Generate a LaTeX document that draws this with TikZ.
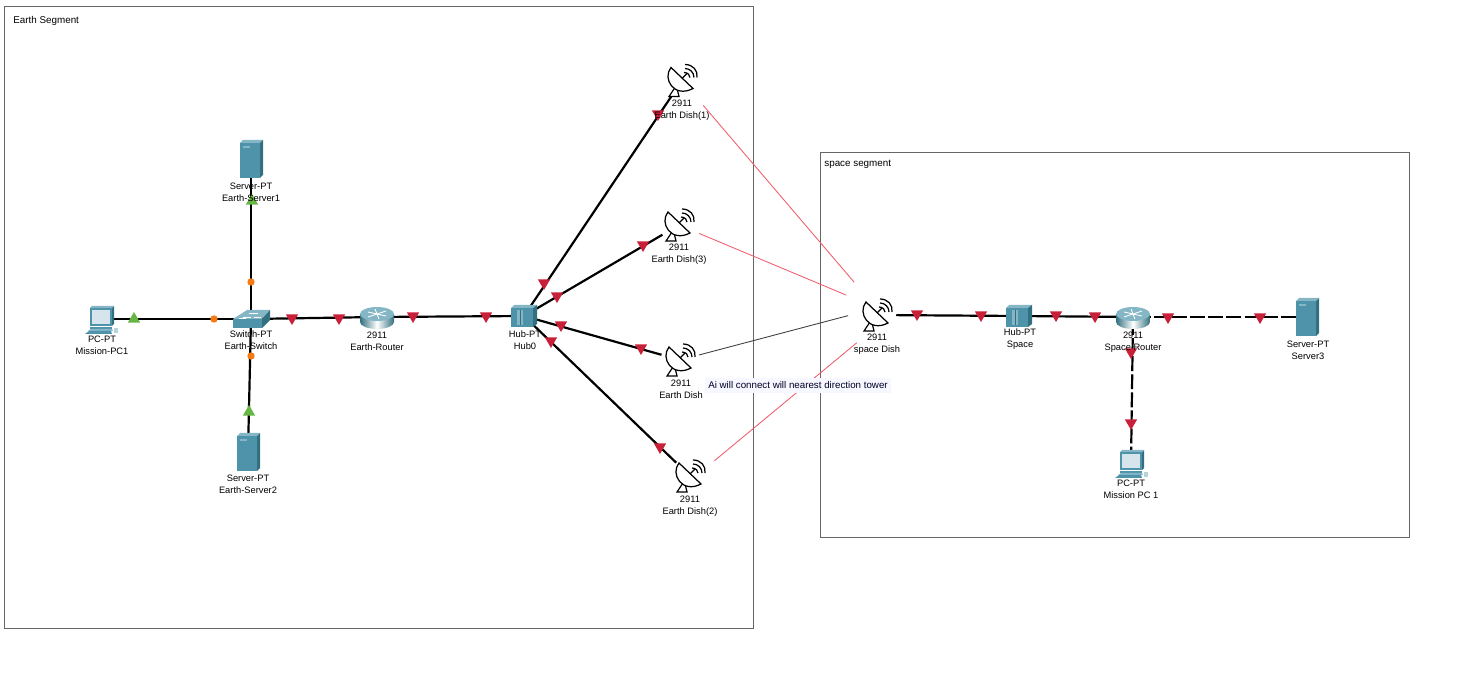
\documentclass[tikz,border=0pt]{standalone}
\usepackage{fontspec}
\setmainfont{Liberation Sans}
\usetikzlibrary{shapes.geometric}
\usetikzlibrary{calc}
\definecolor{ptteal}{HTML}{4F93AB}
\definecolor{ptdark}{HTML}{33707F}
\definecolor{ptlight}{HTML}{84B6C6}
\definecolor{ptscreen}{HTML}{D6E5EC}
\definecolor{lightred}{HTML}{C9203A}
\definecolor{lightgreen}{HTML}{66B545}
\definecolor{lightorange}{HTML}{F47A14}
\definecolor{radiored}{HTML}{F0606E}
\newcommand{\servericon}[1]% node
{\begin{scope}[shift={(#1)}]
	\fill[ptteal] (-11,-16) rectangle (9,19);
	\fill[ptlight] (-11,-16) -- (-8,-19) -- (12,-19) -- (9,-16) -- cycle;
	\fill[ptdark] (9,-16) -- (12,-19) -- (12,16) -- (9,19) -- cycle;
	\fill[ptlight] (-8,-13) rectangle (-1,-11);
\end{scope}}
\newcommand{\pcicon}[1]% node
{\begin{scope}[shift={(#1)}]
	\fill[ptteal] (-11,-11) rectangle (11,7);
	\fill[ptdark] (11,-11) -- (13,-13) -- (13,5) -- (11,7) -- cycle;
	\fill[ptlight] (-11,-11) -- (-9,-13) -- (13,-13) -- (11,-11) -- cycle;
	\fill[ptscreen] (-9,-9) rectangle (9,5);
	\fill[ptteal] (-11,8) rectangle (11,10);
	\fill[ptlight] (-13,12) -- (-10,10) -- (11,10) -- (12,12) -- cycle;
	\fill[ptteal] (-16,15) -- (-12,12) -- (10,12) -- (11,15) -- cycle;
	\fill[ptlight!60!white] (13,9) rectangle (17,14);
\end{scope}}
\newcommand{\switchicon}[1]% node
{\begin{scope}[shift={(#1)}]
	\fill[ptteal] (-18,0) rectangle (11,9);
	\fill[ptlight] (-18,0) -- (-4,-9) -- (19,-9) -- (11,0) -- cycle;
	\fill[ptdark] (11,0) -- (19,-9) -- (19,1) -- (11,9) -- cycle;
	\draw[white,line width=.3pt] (-8,-2) -- (0,-2) (-2,-6) -- (7,-6) (3,-2) -- (10,-2) (-12,-1) -- (-5,-1);
\end{scope}}
\newcommand{\routericon}[1]% node
{\begin{scope}[shift={(#1)}]
	\shade[left color=ptdark,right color=ptdark,middle color=white] (-17,-3) -- (-17,5) arc[start angle=180,end angle=360,x radius=17,y radius=-7] -- (17,-3) -- cycle;
	\fill[ptlight] (0,-3) ellipse (17 and 7);
	\draw[white,line width=.5pt] (-9,-5) -- (9,-1) (9,-6) -- (-9,0) (-2,-8) -- (2,2);
\end{scope}}
\newcommand{\hubicon}[1]% node
{\begin{scope}[shift={(#1)}]
	\fill[ptteal] (-13,-8) rectangle (9,11);
	\fill[ptlight] (-13,-8) -- (-10,-11) -- (13,-11) -- (9,-8) -- cycle;
	\fill[ptdark] (9,-8) -- (13,-11) -- (13,8) -- (9,11) -- cycle;
	\fill[ptlight] (-7,-6) rectangle (-1,9);
	\draw[ptdark,line width=.3pt] (-4,-6) -- (-4,9);
\end{scope}}
\newcommand{\dishicon}[1]% node
{\begin{scope}[shift={(#1)}]
	\draw[thinblack,fill=white] (-7,7) -- (-13,16) -- (-3,16) -- (-5,8);
	\draw[thinblack,fill=white] (-11,-13) .. controls (-20,-2) and (-8,18) .. (11,8) -- cycle;
	\draw[thinblack] (0,-2) -- (5,-7);
	\draw[thinblack] (2,-8) .. controls (6,-8) and (8,-5) .. (8,-3);
	\draw[thinblack] (3,-12) .. controls (8,-12) and (12,-8) .. (12,-3);
	\draw[thinblack] (3,-16) .. controls (11,-16) and (16,-10) .. (15,-3);
\end{scope}}
\tikzset{
	thinblack/.style={black,line width=.7pt},
	pos node/.style={circle,inner sep=0pt,minimum size=3pt},
	dish node/.style={circle,inner sep=0pt,minimum size=21.5pt},
	wired/.style={black,line width=1.25pt},
	cutwire/.style={wired,dash pattern=on 8.5pt off 1.8pt},
	radio/.style={radiored,line width=.5pt},
	greyradio/.style={black!75,line width=.5pt},
	segment/.style={draw=black!60,line width=.4pt},
	devlabel/.style={font=\fontsize{5.3pt}{6.8pt}\selectfont,align=center,inner sep=0pt},
	seglabel/.style={font=\fontsize{5.6pt}{6.8pt}\selectfont,anchor=west,inner sep=0pt},
	notelabel/.style={font=\fontsize{5.55pt}{6.8pt}\selectfont,fill=blue!3,inner xsep=1.7pt,inner ysep=2pt,text=black!85!blue},
	redlamp/.style={regular polygon,regular polygon sides=3,shape border rotate=180,fill=lightred,inner sep=0pt,minimum size=8pt},
	greenlamp/.style={regular polygon,regular polygon sides=3,fill=lightgreen,inner sep=0pt,minimum size=8pt},
	orangelamp/.style={circle,fill=lightorange,inner sep=0pt,minimum size=4.2pt},
}

\begin{document}
\begin{tikzpicture}[x=0.02cm,y=-0.02cm]
	\useasboundingbox (0,0) rectangle (1477,685);
	\draw[segment] (4.5,6.5) rectangle (753.5,628.5);
	\draw[segment] (820.5,152.5) rectangle (1409.5,537.5);
	% device positions
	\node[pos node] (serverone) at (251,159){};
	\node[pos node] (earthswitch) at (251,319){};
	\node[pos node] (missionpc) at (101,319){};
	\node[pos node] (servertwo) at (248,452){};
	\node[pos node] (earthrouter) at (377,317){};
	\node[pos node] (hubzero) at (524,316){};
	\node[dish node] (dishone) at (682,80.5){};
	\node[dish node] (dishthree) at (679,225){};
	\node[dish node] (dishzero) at (680,360){};
	\node[dish node] (dishtwo) at (690,476){};
	\node[dish node] (spacedish) at (877,315){};
	\node[pos node] (spacehub) at (1019,316){};
	\node[pos node] (spacerouter) at (1133,317){};
	\node[pos node] (serverthree) at (1307,317){};
	\node[pos node] (missionpctwo) at (1131,463){};
	% wires
	\draw[wired] (missionpc) -- (earthswitch);
	\draw[wired] (serverone) -- (earthswitch);
	\draw[wired] (servertwo) -- (earthswitch);
	\draw[wired] (earthswitch) -- (earthrouter);
	\draw[wired] (earthrouter) -- (hubzero);
	\draw[wired] (hubzero) -- (dishone);
	\draw[wired] (hubzero) -- (dishthree);
	\draw[wired] (hubzero) -- (dishzero);
	\draw[wired] (hubzero) -- (dishtwo);
	\draw[wired] (spacedish) -- (spacehub);
	\draw[wired] (spacehub) -- (spacerouter);
	\draw[cutwire] (spacerouter) -- (serverthree);
	\draw[cutwire] (spacerouter) -- (missionpctwo);
	% radio links
	\draw[radio,shorten <=7.7pt,shorten >=20pt] (dishone) -- ($(spacedish)+(0,-6)$);
	\draw[radio,shorten <=1.4pt,shorten >=19pt] (dishthree) -- ($(spacedish)+(0,-7)$);
	\draw[greyradio,shorten <=.3pt,shorten >=17pt] (dishzero) -- ($(spacedish)+(0,-7)$);
	\draw[radio,shorten <=18pt,shorten >=15pt] ($(dishtwo)+(0,5)$) -- ($(spacedish)+(0,11)$);
	% icons
	\servericon{serverone}
	\servericon{servertwo}
	\servericon{serverthree}
	\pcicon{missionpc}
	\pcicon{missionpctwo}
	\switchicon{earthswitch}
	\routericon{earthrouter}
	\routericon{spacerouter}
	\hubicon{hubzero}
	\hubicon{spacehub}
	\dishicon{dishone}
	\dishicon{dishthree}
	\dishicon{dishzero}
	\dishicon{dishtwo}
	\dishicon{spacedish}
	% link lights
	\node[greenlamp] (lampa) at (134,319){};
	\node[greenlamp] (lampb) at (252,201){};
	\node[greenlamp] (lampc) at (249,412){};
	\node[orangelamp] (lampd) at (214,319){};
	\node[orangelamp] (lampe) at (251,282){};
	\node[orangelamp] (lampf) at (251,356){};
	\node[redlamp] (lampg) at (292,318){};
	\node[redlamp] (lamph) at (339,318){};
	\node[redlamp] (lampi) at (413,316){};
	\node[redlamp] (lampj) at (486,316){};
	\node[redlamp] (lampk) at (544,283){};
	\node[redlamp] (lampl) at (557,296){};
	\node[redlamp] (lampm) at (561,325){};
	\node[redlamp] (lampn) at (551,341){};
	\node[redlamp] (lampo) at (658,114){};
	\node[redlamp] (lampp) at (643,245){};
	\node[redlamp] (lampq) at (641,348){};
	\node[redlamp] (lampr) at (660,447){};
	\node[redlamp] (lamps) at (917,314){};
	\node[redlamp] (lampt) at (981,315){};
	\node[redlamp] (lampu) at (1056,315){};
	\node[redlamp] (lampv) at (1095,316){};
	\node[redlamp] (lampw) at (1168,317){};
	\node[redlamp] (lampx) at (1260,317){};
	\node[redlamp] (lampy) at (1131,352){};
	\node[redlamp] (lampz) at (1131,423){};
	% labels
	\node[seglabel] (earthseg) at (13,21){Earth Segment};
	\node[seglabel] (spaceseg) at (824,164){space segment};
	\node[devlabel] (lblserverone) at (251,192){Server-PT\\Earth-Server1};
	\node[devlabel] (lblswitch) at (251,340){Switch-PT\\Earth-Switch};
	\node[devlabel] (lblpc) at (102,345){PC-PT\\Mission-PC1};
	\node[devlabel] (lblservertwo) at (248,484){Server-PT\\Earth-Server2};
	\node[devlabel] (lblrouter) at (377,341){2911\\Earth-Router};
	\node[devlabel] (lblhub) at (525,340){Hub-PT\\Hub0};
	\node[devlabel] (lbldishone) at (682,110){2911\\Earth Dish(1)};
	\node[devlabel] (lbldishthree) at (679,254){2911\\Earth Dish(3)};
	\node[devlabel] (lbldishzero) at (681,389){2911\\Earth Dish};
	\node[devlabel] (lbldishtwo) at (690,506){2911\\Earth Dish(2)};
	\node[devlabel] (lblspacedish) at (877,344){2911\\space Dish};
	\node[devlabel] (lblspacehub) at (1020,339){Hub-PT\\Space};
	\node[devlabel] (lblspacerouter) at (1133,342){2911\\Space Router};
	\node[devlabel] (lblserverthree) at (1308,350){Server-PT\\Server3};
	\node[devlabel] (lblpctwo) at (1131,489){PC-PT\\Mission PC 1};
	\node[notelabel] (airemark) at (798,385.5){Ai will connect will nearest direction tower};
\end{tikzpicture}
\end{document}
